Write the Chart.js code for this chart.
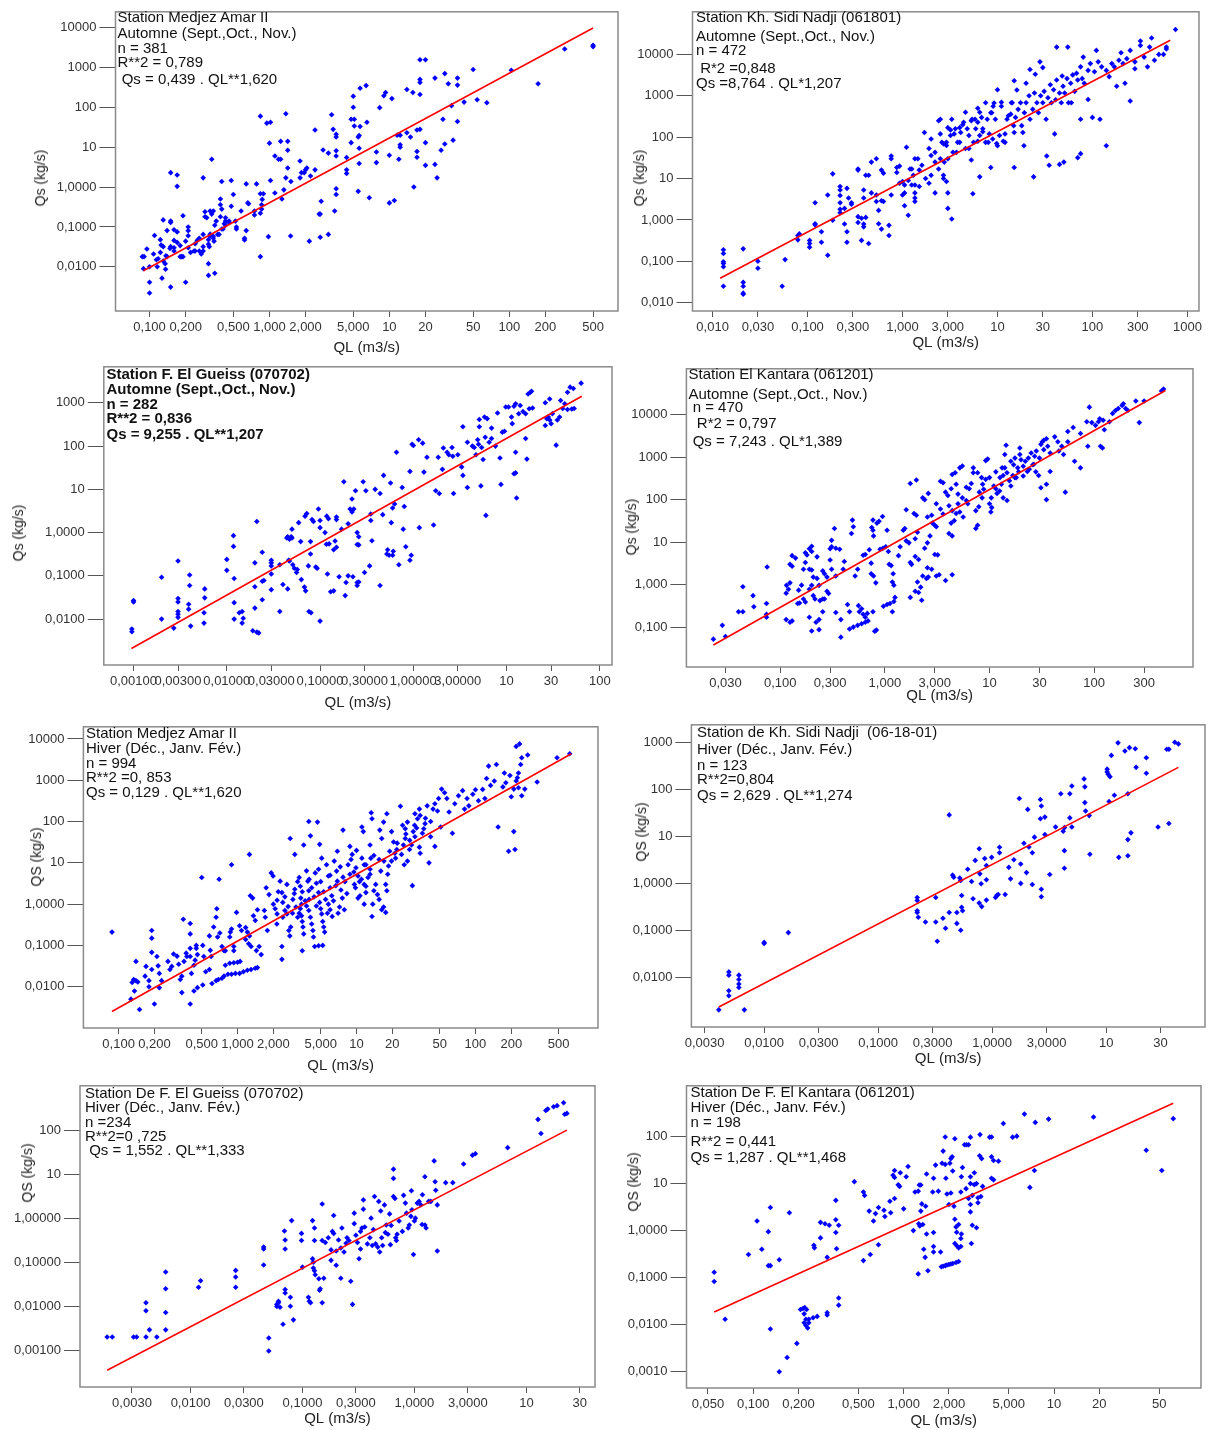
<!DOCTYPE html>
<html>
<head>
<meta charset="utf-8">
<title>Relations QS - QL</title>
<script src="https://cdn.jsdelivr.net/npm/chart.js@4.4.1/dist/chart.umd.min.js"></script>
<style>
  body { margin: 0; background: #fff; width: 1216px; height: 1430px; position: relative; overflow: hidden;
         font-family: "Liberation Sans", Arial, sans-serif; }
  canvas { position: absolute; }
  .note { position: absolute; font-size: 15px; line-height: 16px; color: #111; white-space: pre; }
  .note.bold { font-weight: bold; }
  .ytitle { position: absolute; font-size: 14px; line-height: 16px; color: #222; white-space: pre;
            transform: translate(-50%, -50%) rotate(-90deg); }
</style>
</head>
<body>
<script>
// ---- data: [QL (m3/s), Qs (kg/s)] ----
const medjezAutumn = [[500,3300],[500,3600],[290,2900],[104,850],[174,390],[50,890],[54,155],[65,130],[42,135],[37,540],[37,360],[37,44],[34,15],[33,110],[31,390],[29,700],[28,50],[29,12],[27,8.4],[24,540],[24,3.7],[25,1.7],[20,13],[20,3.5],[20,1550],[18,1550],[18,500],[18,420],[18,210],[18,28],[17,27],[17,5.6],[17,7.8],[15.7,235],[16,1.0],[15,18],[14,280],[14,23],[12.3,20],[12.3,11.5],[12.3,10],[11.6,20],[12,5],[11,0.46],[10,0.40],[10,6.3],[10.5,165],[9.3,235],[9,195],[8.3,98],[7.8,7.6],[7.8,4.1],[6.8,0.54],[6.5,42],[6.4,350],[5.7,300],[5.7,33],[5.6,19.5],[5.5,18],[5.6,9.4],[5.6,3.9],[5.5,0.78],[5.1,50],[4.8,50],[5,100],[5,190],[5.1,34],[4.8,13],[4.4,5.5],[4.4,2.7],[4.4,2.2],[3.6,21],[3.4,28],[3.6,18],[3.6,8.1],[3.6,6.0],[3.6,0.91],[3.6,0.65],[3.5,0.25],[3.3,65],[3.1,7.1],[3.1,0.065],[2.7,0.44],[2.65,0.21],[2.6,0.21],[2.8,8.5],[2.65,0.055],[2.4,27],[2.4,2.7],[2.15,0.044],[2.2,1.9],[2.05,3.0],[2.0,2.7],[1.85,2.3],[1.8,1.7],[1.95,2.3],[1.8,4.5],[1.51,1.38],[1.5,0.059],[1.42,3.0],[1.42,14],[1.42,8.4],[1.37,69],[1.37,1.7],[1.24,14],[1.24,5],[1.19,5],[1.27,0.5],[1.32,0.85],[1.11,6],[1.11,0.71],[1.02,1.46],[1.0,12.6],[0.98,0.057],[1.02,42],[0.95,40],[0.84,60],[0.87,0.49],[0.89,0.68],[0.84,0.68],[0.86,0.36],[0.86,0.28],[0.84,0.22],[0.84,0.018],[0.78,1.2],[0.75,0.25],[0.75,0.2],[0.67,0.38],[0.66,0.4],[0.64,0.081],[0.58,0.25],[0.64,1.2],[0.62,0.052],[0.62,0.047],[0.53,0.089],[0.53,0.1],[0.5,0.65],[0.52,0.14],[0.48,0.33],[0.48,1.46],[0.46,0.14],[0.46,0.13],[0.4,1.38],[0.4,0.28],[0.39,0.36],[0.39,0.5],[0.43,0.17],[0.43,0.14],[0.42,0.12],[0.43,0.11],[0.4,0.089],[0.41,0.089],[0.39,0.18],[0.37,0.065],[0.38,0.065],[0.35,0.11],[0.36,0.14],[0.34,0.25],[0.35,0.0069],[0.34,0.058],[0.34,0.052],[0.345,0.044],[0.33,5.0],[0.32,0.25],[0.33,0.21],[0.32,0.066],[0.32,0.059],[0.31,0.048],[0.31,0.037],[0.315,0.032],[0.31,0.012],[0.31,0.0061],[0.3,0.17],[0.29,0.18],[0.29,0.24],[0.28,1.7],[0.28,0.032],[0.28,0.025],[0.28,0.065],[0.27,0.021],[0.26,0.025],[0.25,0.046],[0.26,0.052],[0.24,0.038],[0.24,0.025],[0.235,0.025],[0.22,0.023],[0.21,0.030],[0.2,0.044],[0.21,0.1],[0.21,0.08],[0.21,0.06],[0.19,0.19],[0.19,0.018],[0.18,0.018],[0.185,0.018],[0.2,0.0041],[0.17,0.041],[0.18,0.034],[0.17,1.04],[0.17,2.0],[0.17,0.075],[0.16,0.085],[0.16,0.03],[0.16,0.025],[0.15,0.13],[0.15,0.14],[0.15,2.3],[0.15,0.032],[0.148,0.029],[0.15,0.0031],[0.14,0.081],[0.14,0.018],[0.13,0.014],[0.135,0.012],[0.136,0.0087],[0.137,0.019],[0.13,0.15],[0.13,0.032],[0.125,0.035],[0.127,0.0052],[0.123,0.048],[0.123,0.023],[0.118,0.016],[0.114,0.015],[0.116,0.01],[0.11,0.061],[0.108,0.021],[0.1,0.0041],[0.1,0.0022],[0.095,0.028],[0.09,0.018],[0.087,0.018],[0.089,0.009],[0.1,0.01],[0.16,0.046]];
const sidiNadjiAutumn = [[0.013,0.19],[0.013,0.155],[0.013,0.098],[0.013,0.089],[0.013,0.074],[0.013,0.025],[0.021,0.2],[0.021,0.031],[0.021,0.025],[0.021,0.017],[0.021,0.016],[0.03,0.1],[0.03,0.068],[0.054,0.025],[0.058,0.11],[0.079,0.42],[0.079,0.33],[0.082,0.46],[0.105,0.32],[0.105,0.27],[0.105,0.22],[0.12,0.81],[0.12,0.76],[0.12,2.6],[0.14,0.52],[0.14,0.29],[0.163,0.14],[0.163,4.0],[0.184,0.98],[0.184,13],[0.22,6.4],[0.22,5.3],[0.22,3.9],[0.22,2.6],[0.22,1.8],[0.22,1.5],[0.245,0.8],[0.245,1.9],[0.27,3.4],[0.26,5.8],[0.26,0.52],[0.26,0.29],[0.29,2.6],[0.29,2.4],[0.34,17],[0.34,16],[0.34,1.2],[0.34,0.87],[0.37,1.1],[0.37,0.32],[0.39,5.3],[0.39,3.4],[0.39,0.8],[0.39,0.68],[0.41,12],[0.41,1.15],[0.44,0.27],[0.44,12],[0.47,25],[0.47,4.5],[0.53,30],[0.53,4.0],[0.53,2.8],[0.56,0.81],[0.56,1.7],[0.6,16],[0.6,2.9],[0.6,0.6],[0.63,13.5],[0.63,2.8],[0.72,0.42],[0.72,0.74],[0.76,4.0],[0.76,35],[0.76,30],[0.87,18.5],[0.87,14],[0.93,20],[0.93,7.7],[1.0,8.5],[1.0,4.0],[1.05,4.5],[1.05,2.2],[1.1,57],[1.15,9],[1.15,1.3],[1.25,17],[1.25,7],[1.35,30],[1.35,7],[1.35,4.5],[1.35,3.4],[1.35,2.8],[1.5,6.4],[1.5,16],[1.7,130],[1.9,53],[1.9,7.7],[2.0,90],[2.0,12],[2.2,4.5],[2.2,25],[2.4,250],[2.4,17],[2.5,270],[2.5,120],[2.7,10],[2.7,12],[2.7,69],[2.9,8.5],[2.9,75],[3.0,170],[3.0,30],[3.0,4.5],[3.0,1.9],[3.2,150],[3.3,1.05],[3.3,270],[3.5,120],[3.7,43],[4.0,75],[4.0,170],[4.3,200],[4.6,400],[5,53],[5.3,250],[5.3,28],[5.5,4.3],[5.8,270],[6.2,500],[6.2,80],[6.5,400],[6.5,11],[7,135],[7.5,680],[8,75],[8.5,18.5],[9,560],[9.5,270],[10,1400],[10,62],[11,700],[12,75],[13,330],[14,680],[15,2300],[15,130],[15,18.5],[16,1380],[18,190],[19,62],[20,2000],[22,4300],[24,11],[25,3300],[28,6600],[30,4800],[33,35],[35,21],[40,120],[42,15000],[45,22],[48,3000],[50,25],[55,15000],[60,680],[70,32],[75,270],[75,40],[80,8600],[90,810],[100,300],[110,12500],[120,270],[140,62],[150,2900],[180,1700],[200,11000],[220,2000],[250,750],[280,4500],[320,21000],[380,5000],[420,25000],[500,10000],[600,15000],[750,40000],[8.7,390],[9.2,670],[9.8,70],[10.5,110],[11,560],[11.5,80],[12,120],[12.6,270],[13.8,360],[14.3,680],[14.8,190],[15.5,300],[16.5,470],[17.5,680],[18.5,130],[19.2,390],[20,680],[21.5,1000],[22,270],[23.5,470],[24.5,1170],[26,680],[27,390],[28.5,1000],[30,680],[31,1280],[32.5,270],[34,900],[36,1850],[37,680],[39,1400],[41,800],[42,2400],[45,1170],[47,680],[49,1700],[51,1170],[54,2600],[56,680],[59,2000],[62,3200],[65,1280],[68,3500],[70,2400],[75,5000],[78,2600],[82,2000],[90,4100],[95,6000],[105,3800],[115,6600],[125,5000],[140,4100],[160,6000],[170,5000],[190,7200],[210,6000],[230,7900],[250,12500],[280,6600],[320,16500],[350,8600],[400,15000],[450,7200],[560,10000],[600,13500],[1.05,7],[1.2,17],[1.3,12],[1.45,30],[1.6,21],[1.75,10],[2.0,36],[2.2,43],[2.5,30],[2.6,75],[2.75,25],[2.9,63],[3.2,110],[3.4,43],[3.6,160],[3.8,75],[4.1,130],[4.4,230],[4.6,53],[4.8,160],[5,110],[5.4,270],[5.6,75],[5.9,160],[6.2,230],[6.5,110],[6.8,300],[7,160],[7.5,75],[7.8,270],[8.2,120],[8.5,390],[8.9,90]];
const gueissAutumn = [[0.00096,0.0051],[0.00096,0.0059],[0.001,0.027],[0.001,0.025],[0.002,0.01],[0.0027,0.0062],[0.003,0.22],[0.003,0.03],[0.003,0.025],[0.003,0.015],[0.003,0.013],[0.003,0.011],[0.004,0.105],[0.004,0.06],[0.0039,0.022],[0.0039,0.017],[0.0041,0.0069],[0.002,0.093],[0.0058,0.05],[0.0058,0.031],[0.0057,0.014],[0.0057,0.0081],[0.01,0.24],[0.01,0.134],[0.0118,0.85],[0.0118,0.48],[0.012,0.087],[0.012,0.024],[0.012,0.01],[0.0136,0.014],[0.0146,0.015],[0.015,0.0105],[0.0146,0.0081],[0.02,0.2],[0.02,0.056],[0.02,0.018],[0.019,0.0054],[0.021,0.005],[0.022,0.0048],[0.021,1.8],[0.024,0.35],[0.024,0.075],[0.025,0.078],[0.024,0.028],[0.03,0.23],[0.03,0.2],[0.03,0.17],[0.03,0.11],[0.03,0.048],[0.037,0.18],[0.037,0.015],[0.04,0.063],[0.044,0.75],[0.045,0.8],[0.047,0.7],[0.045,0.05],[0.046,0.23],[0.047,0.22],[0.05,1.2],[0.05,0.75],[0.049,0.8],[0.051,0.18],[0.053,0.15],[0.056,0.12],[0.057,0.14],[0.059,1.7],[0.062,0.62],[0.063,0.082],[0.068,0.055],[0.07,0.045],[0.069,2.4],[0.072,2.75],[0.075,0.17],[0.079,0.32],[0.076,0.015],[0.08,0.014],[0.079,0.62],[0.082,2.0],[0.085,1.8],[0.09,0.16],[0.093,0.15],[0.096,3.5],[0.1,1.9],[0.1,1.3],[0.1,0.009],[0.113,1.0],[0.118,2.4],[0.123,2.1],[0.12,0.11],[0.117,0.54],[0.125,0.55],[0.13,0.043],[0.14,0.045],[0.14,0.4],[0.145,0.64],[0.15,2.0],[0.15,2.3],[0.15,0.46],[0.16,0.095],[0.17,1.2],[0.18,15],[0.186,0.035],[0.19,0.07],[0.2,0.1],[0.2,1.6],[0.21,3.5],[0.22,3.0],[0.225,0.095],[0.22,6],[0.23,3.5],[0.24,9.3],[0.25,0.06],[0.25,0.07],[0.25,1.0],[0.26,0.8],[0.25,0.53],[0.26,0.52],[0.26,0.072],[0.29,15],[0.3,0.12],[0.31,9.3],[0.34,0.17],[0.35,1.9],[0.35,2.7],[0.36,0.65],[0.39,10],[0.44,0.06],[0.44,8],[0.47,2.6],[0.48,21],[0.52,0.32],[0.53,0.4],[0.55,0.3],[0.57,14],[0.58,1.7],[0.6,0.3],[0.6,3.7],[0.61,0.37],[0.63,4.6],[0.66,72],[0.7,0.18],[0.76,11],[0.8,4.0],[0.78,1.2],[0.83,0.47],[0.92,26],[0.97,110],[1.0,103],[0.92,0.23],[0.95,0.3],[1.14,140],[1.16,1.3],[1.26,117],[1.3,25],[1.4,55],[1.65,1.5],[1.74,9.3],[1.9,8],[1.85,55],[2.05,29],[2.1,90],[2.3,72],[2.4,63],[2.6,93],[2.65,58],[2.7,8],[3,63],[3.3,33],[3.4,280],[3.4,21],[3.8,11],[3.8,123],[4.3,100],[4.5,93],[4.7,63],[4.9,140],[5.0,110],[5.1,410],[5.1,280],[5.3,12],[5.4,93],[5.6,49],[5.8,470],[6.2,430],[5.9,160],[6,2.5],[6.5,123],[6.9,150],[6.9,260],[7.6,100],[8,580],[8.5,53],[8.7,13],[9,210],[9.5,220],[9.8,800],[10.5,800],[11.3,470],[11.5,330],[12,830],[12.5,950],[12.5,72],[12,23],[12.5,24],[12.8,6.3],[13.5,560],[14,870],[15,630],[16,560],[16,150],[16.5,50],[17,1600],[18,1750],[18.5,1850],[17.5,730],[19,760],[26,300],[27,430],[26,1000],[28,470],[29,400],[29,1230],[31,560],[30,330],[34,105],[35,400],[37,470],[38,1130],[40,740],[42,950],[45,1750],[48,2300],[52,2150],[45,700],[50,720],[53,740],[63,2850]];
const kantaraAutumn = [[0.023,0.052],[0.028,0.11],[0.03,0.06],[0.04,0.23],[0.044,0.23],[0.044,0.89],[0.055,0.55],[0.056,0.3],[0.074,0.36],[0.074,0.2],[0.074,0.17],[0.075,2.6],[0.114,0.63],[0.12,0.78],[0.115,0.96],[0.124,1.1],[0.124,3.0],[0.13,2.7],[0.13,4.8],[0.14,4.2],[0.114,0.15],[0.124,0.13],[0.13,0.14],[0.147,0.36],[0.153,0.37],[0.15,0.74],[0.16,0.97],[0.167,2.3],[0.174,3.3],[0.174,5.6],[0.167,0.46],[0.174,0.39],[0.18,5],[0.19,7],[0.2,8],[0.2,6],[0.19,2.3],[0.2,2.2],[0.207,1.5],[0.19,0.78],[0.2,0.96],[0.207,0.55],[0.215,0.46],[0.19,0.17],[0.2,0.081],[0.235,0.087],[0.22,0.13],[0.235,0.15],[0.225,1.4],[0.235,0.96],[0.225,4.5],[0.24,0.42],[0.255,0.46],[0.265,0.46],[0.255,2.1],[0.265,1.8],[0.28,1.5],[0.255,0.23],[0.28,0.7],[0.29,0.62],[0.3,7],[0.31,7.8],[0.34,7.2],[0.37,6.8],[0.31,11],[0.33,21],[0.3,3.8],[0.31,2.3],[0.34,1.6],[0.34,0.22],[0.38,0.15],[0.38,0.058],[0.4,2.3],[0.41,3.5],[0.44,0.34],[0.46,0.23],[0.46,0.09],[0.5,0.1],[0.55,0.11],[0.6,0.12],[0.65,0.13],[0.69,0.14],[0.48,16],[0.49,33],[0.5,23],[0.52,1.6],[0.55,2.3],[0.56,0.32],[0.57,0.23],[0.6,0.27],[0.62,0.2],[0.65,0.17],[0.68,0.21],[0.62,4.9],[0.65,5.1],[0.71,6.6],[0.74,3.2],[0.77,33],[0.75,22],[0.77,19],[0.78,14],[0.74,1.8],[0.78,1.6],[0.82,1.1],[0.77,0.23],[0.8,0.08],[0.83,0.085],[0.84,28],[0.88,31],[0.9,6.8],[0.95,40],[0.96,7.2],[1.02,7.8],[1.08,6],[1.05,19],[1.1,3],[1.15,2.8],[1.2,1.8],[1.18,1.15],[1.22,0.97],[0.97,0.31],[1.05,0.34],[1.12,0.36],[1.22,0.4],[1.25,0.5],[1.18,0.23],[1.35,4.8],[1.4,7.8],[1.5,19],[1.55,21],[1.6,58],[1.6,10.7],[1.7,9.6],[1.75,3.3],[1.8,3],[1.75,240],[2.0,290],[1.9,47],[2.0,43],[1.95,12],[2.05,17],[1.95,4.6],[2.1,3.9],[2.05,1.15],[2.2,0.87],[1.75,0.5],[1.95,0.7],[2.1,0.65],[2.25,0.43],[2.3,1.6],[2.5,1.4],[2.6,1.5],[2.4,7.2],[2.55,9.6],[2.7,14],[2.55,2.5],[2.8,2.3],[3.0,5.1],[3.2,5],[3.1,1.6],[3.3,1.7],[3.8,1.25],[4.4,1.7],[2.3,110],[2.4,100],[2.6,140],[2.55,39],[2.8,43],[2.85,28],[3,25],[3.1,23],[3.1,80],[3.4,60],[3.6,46],[3.4,270],[3.6,250],[3.8,150],[4.0,125],[4.3,180],[4.1,16],[4.4,14],[4.3,28],[4.6,32],[4.1,72],[4.4,55],[4.8,47],[5.0,80],[4.8,230],[5.0,135],[4.4,390],[4.7,430],[5.2,560],[5.5,620],[5.2,51],[5.6,39],[5.5,110],[6,95],[6.2,80],[6,195],[6.4,180],[6.7,240],[7,430],[7,560],[7.4,55],[7.9,68],[7.4,21],[7.7,25],[8,150],[8.5,110],[8.8,175],[9.2,830],[9.6,900],[9.2,300],[10,330],[10,80],[10.5,65],[10.3,51],[11,210],[11.5,180],[11.8,140],[12.5,160],[13,230],[13.5,370],[14,560],[14.7,430],[13.5,110],[14.7,95],[14,1150],[14.4,1900],[15.5,280],[16,210],[16,800],[17,660],[17.5,950],[18,330],[19,450],[19.5,1150],[19.5,1640],[20,870],[21,610],[22,800],[23,460],[23.5,950],[25,1250],[26,660],[27,1050],[28,1400],[30,950],[31,2000],[32,2300],[33,2500],[35,2700],[33,1500],[36,1800],[38,1250],[31,190],[35,230],[35,100],[38,460],[42,3000],[45,2300],[46,1400],[49,1800],[51,1150],[53,150],[56,2300],[56,4000],[63,5000],[65,800],[74,560],[74,3600],[87,1800],[85,6800],[95,6500],[90,15000],[103,5600],[110,6800],[113,8000],[115,1800],[120,1640],[125,4400],[122,7400],[140,6800],[150,10700],[160,12500],[170,14000],[185,16500],[190,18000],[200,14000],[210,12500],[250,21000],[270,6500],[300,21000],[440,36000],[460,40000],[7.7,430],[8.4,330],[8.6,230],[10.4,110],[11.5,450],[12.6,330],[13.2,560],[16.7,370],[17.5,330],[18.6,560],[21,360],[24,520],[26.5,680],[27.7,450],[29.5,370]];
const medjezWinter = [[0.088,0.21],[0.127,0.005],[0.13,0.0127],[0.134,0.015],[0.14,0.014],[0.145,0.013],[0.136,0.0079],[0.14,0.041],[0.15,0.0028],[0.167,0.018],[0.17,0.031],[0.18,0.01],[0.18,0.014],[0.19,0.23],[0.19,0.15],[0.19,0.068],[0.19,0.026],[0.2,0.0038],[0.21,0.054],[0.215,0.032],[0.22,0.021],[0.22,0.0094],[0.23,0.014],[0.26,0.041],[0.27,0.026],[0.28,0.031],[0.29,0.062],[0.31,0.055],[0.32,0.035],[0.33,0.015],[0.34,0.018],[0.34,0.0072],[0.35,0.43],[0.355,0.041],[0.37,0.065],[0.375,0.054],[0.4,0.34],[0.4,0.19],[0.4,0.085],[0.4,0.054],[0.4,0.0038],[0.41,0.021],[0.43,0.033],[0.44,0.044],[0.43,0.0079],[0.46,0.0095],[0.45,0.085],[0.46,0.06],[0.45,0.1],[0.5,4.4],[0.51,0.1],[0.52,0.054],[0.51,0.011],[0.54,0.023],[0.58,0.026],[0.59,0.076],[0.6,0.054],[0.58,0.17],[0.61,0.012],[0.66,0.014],[0.69,0.015],[0.74,0.016],[0.63,0.28],[0.66,0.48],[0.67,0.77],[0.68,0.16],[0.71,0.2],[0.7,4.0],[0.74,0.094],[0.77,0.074],[0.79,0.074],[0.79,0.033],[0.86,0.037],[0.93,0.038],[1.0,0.039],[1.05,0.041],[0.77,0.018],[0.83,0.02],[0.89,0.02],[0.96,0.021],[0.86,0.16],[0.87,0.21],[0.89,0.25],[0.93,0.094],[0.93,0.074],[0.89,9.0],[0.98,0.63],[1.04,0.021],[1.12,0.023],[1.21,0.025],[1.3,0.026],[1.41,0.028],[1.47,0.029],[1.04,0.3],[1.08,0.23],[1.17,0.27],[1.21,0.21],[1.26,0.17],[1.17,0.14],[1.24,0.11],[1.3,0.094],[1.26,16],[1.28,1.6],[1.34,1.4],[1.36,0.52],[1.41,0.4],[1.47,0.73],[1.44,0.075],[1.52,0.094],[1.58,0.06],[1.68,0.7],[1.71,0.48],[1.78,0.23],[1.74,2.5],[1.84,1.7],[1.92,5.7],[1.99,4.8],[2.0,1.0],[2.07,0.77],[2.15,0.58],[2.15,1.24],[2.14,0.33],[2.28,3.6],[2.36,1.9],[2.4,1.1],[2.4,0.48],[2.36,0.094],[2.36,0.046],[2.5,0.7],[2.6,0.58],[2.66,0.87],[2.7,0.23],[2.75,0.17],[2.8,0.28],[2.77,39],[2.92,1.3],[3.03,2.3],[3.1,0.85],[3.2,0.48],[3.03,16],[3.3,4.4],[3.37,2.7],[3.4,1.4],[3.45,1.0],[3.37,0.77],[3.45,0.52],[3.5,0.38],[3.55,0.28],[3.6,0.19],[3.5,0.074],[3.6,27],[3.8,6.4],[3.9,3.6],[3.97,2.1],[4.0,1.3],[3.97,0.7],[4.1,0.48],[4.2,0.33],[4.3,0.23],[4.35,0.16],[3.97,100],[4.7,97],[4.1,45],[4.45,0.094],[4.8,0.098],[5.2,0.1],[4.5,5.7],[4.6,3.2],[4.8,1.9],[4.9,1.1],[5.0,0.77],[5.1,0.58],[5.2,0.38],[5.3,0.28],[5.4,0.21],[4.9,28],[5.1,13],[5.6,9],[5.8,4.8],[6.0,2.5],[6.2,1.6],[5.8,1.0],[6,0.73],[6.25,0.5],[6.5,11],[6.8,6.3],[6.9,3.6],[6.9,19],[7.2,0.85],[7.4,2.2],[7.6,1.4],[7.7,4.5],[7.7,62],[7.9,0.73],[8.5,9],[8.8,5.3],[8.8,25],[9.2,16],[9.6,3.0],[9.8,2.5],[9.9,7.6],[10.3,4.8],[10.6,3.5],[10.3,1.4],[10.7,1.6],[11.1,74],[11.4,57],[11.1,13],[11.6,9],[11.6,3.0],[12,2.7],[12,1.9],[11.6,1.0],[12.5,4.4],[13,5.3],[13,7],[13,27],[13.2,13],[13.5,0.5],[13.7,1.0],[13.3,163],[13.5,117],[14,2.1],[14.5,3.0],[15,1.7],[15.5,1.3],[15.5,12],[16,6.3],[15.7,62],[16.3,39],[16.3,0.73],[16.9,0.85],[17.6,0.63],[16.9,97],[18,155],[17.6,3.0],[18,2.1],[18.3,5.3],[18.6,8.4],[19,19],[19.7,11],[19.7,57],[20.5,32],[21,17],[21.3,13],[21.8,21],[23.4,235],[23.9,16],[24.8,27],[25.7,39],[25.2,9],[26.8,11],[24.4,81],[25.7,67],[26.8,97],[27.9,21],[29,27],[29.5,2.8],[30,57],[31,43],[30.8,81],[31,155],[32.6,117],[33.8,200],[34.3,140],[33.8,24],[34.3,17],[35.8,52],[36.8,67],[37.7,89],[39.3,240],[40.7,10],[42,43],[44,200],[45.6,270],[45.6,25],[49,360],[51,74],[52,610],[55,500],[57.5,360],[60,170],[64,52],[67,270],[72,420],[78,560],[81,200],[85,360],[88,240],[95,460],[100,590],[106,320],[115,600],[120,360],[124,1100],[129,2200],[134,750],[144,960],[150,2400],[155,74],[170,690],[175,1500],[180,870],[195,1300],[190,19],[200,400],[210,610],[215,21],[220,960],[225,1150],[230,1500],[210,57],[230,660],[220,6600],[235,7600],[245,3500],[240,2400],[245,420],[260,610],[275,4100],[330,910],[485,3500],[620,4400],[2.2,2.0],[2.5,1.5],[2.6,3.0],[2.9,0.6],[3.0,1.8],[3.2,3.5],[3.3,0.6],[3.5,2.0],[3.7,1.2],[3.8,0.9],[4.0,4.0],[4.2,2.5],[4.4,1.5],[4.6,0.9],[4.8,7.0],[5.0,3.5],[5.3,2.0],[5.5,1.3],[5.7,0.6],[6.0,5.0],[6.4,1.2],[6.7,2.8],[7.0,0.6],[7.3,8.0],[8.0,3.5],[8.3,1.8],[9.0,12],[9.5,6.0],[10,20],[11,4.0],[12,9],[14,15],[17,11],[22,30],[26,50],[28,35],[32,70],[38,120],[42,100],[48,180]];
const sidiNadjiWinter = [[0.004,0.002],[0.0049,0.0129],[0.0049,0.011],[0.0049,0.0051],[0.0049,0.004],[0.006,0.011],[0.006,0.0089],[0.006,0.0071],[0.006,0.006],[0.0067,0.002],[0.01,0.055],[0.01,0.052],[0.0163,0.089],[0.22,0.5],[0.22,0.43],[0.22,0.26],[0.22,0.24],[0.225,0.19],[0.26,0.15],[0.32,0.5],[0.33,0.058],[0.32,0.15],[0.37,0.18],[0.39,0.11],[0.42,0.24],[0.42,29],[0.45,1.5],[0.46,1.35],[0.49,0.24],[0.49,0.14],[0.52,1.3],[0.53,1.15],[0.53,0.1],[0.54,0.31],[0.55,0.26],[0.54,0.55],[0.61,2.0],[0.66,1.1],[0.68,0.47],[0.71,3.1],[0.77,5.5],[0.78,1.6],[0.77,0.38],[0.81,0.32],[0.8,0.98],[0.86,3.4],[0.89,2.4],[0.89,1.2],[0.89,0.44],[0.99,3.6],[1.07,0.5],[1.1,0.56],[1.13,0.58],[1.16,5.9],[1.16,4.5],[1.3,0.58],[1.4,2.2],[1.45,1.25],[1.55,3.2],[1.73,65],[1.78,2.6],[1.78,1.0],[1.9,7.2],[2.0,1.7],[2.05,38],[2.1,6],[2.25,4.5],[2.25,0.95],[2.35,9.7],[2.65,24],[2.65,62],[2.7,45],[2.7,0.75],[2.7,0.52],[2.9,26],[2.9,11],[3.2,1.55],[3.6,16],[4.0,82],[4.2,13],[4.3,15.5],[4.3,5],[4.3,2.1],[4.8,82],[4.8,25],[5.0,120],[5.0,16],[6.4,170],[6.5,115],[6.5,53],[6.6,35],[7.1,28],[7.2,4.2],[10.2,275],[10.2,240],[10.4,215],[10.8,190],[10.6,56],[11.1,540],[11.8,76],[12.7,1000],[12.9,3.6],[14.6,670],[15.5,82],[15.5,8.6],[15.5,3.9],[16,790],[16.5,12],[18,750],[18.3,300],[22.5,480],[22.5,225],[28.5,16],[34,730],[35.5,730],[35.5,19],[40,1030],[43,950]];
const gueissWinter = [[0.0018,0.002],[0.002,0.002],[0.0031,0.002],[0.0033,0.002],[0.004,0.012],[0.004,0.0079],[0.004,0.002],[0.0043,0.0029],[0.005,0.002],[0.006,0.06],[0.006,0.025],[0.006,0.0072],[0.006,0.0029],[0.0118,0.027],[0.0123,0.038],[0.0253,0.065],[0.0253,0.046],[0.0253,0.027],[0.045,0.22],[0.045,0.2],[0.045,0.086],[0.05,0.0019],[0.05,0.00096],[0.059,0.011],[0.059,0.0099],[0.061,0.012],[0.063,0.0095],[0.061,0.013],[0.067,0.0039],[0.069,0.51],[0.07,0.32],[0.07,0.2],[0.07,0.024],[0.07,0.02],[0.078,0.016],[0.078,0.01],[0.08,0.88],[0.083,0.0049],[0.098,0.45],[0.098,0.31],[0.1,0.077],[0.113,0.016],[0.115,0.013],[0.118,0.012],[0.123,0.119],[0.125,0.1],[0.125,0.074],[0.128,0.064],[0.123,0.88],[0.128,0.6],[0.128,0.31],[0.13,0.052],[0.14,0.042],[0.142,0.023],[0.144,0.025],[0.15,0.012],[0.15,0.31],[0.15,2.1],[0.155,0.043],[0.16,0.28],[0.17,0.36],[0.18,0.11],[0.18,0.19],[0.185,0.5],[0.19,0.45],[0.19,1.15],[0.2,0.085],[0.2,0.18],[0.21,0.32],[0.22,0.21],[0.22,0.043],[0.225,0.6],[0.235,0.17],[0.245,0.27],[0.25,0.36],[0.26,0.31],[0.27,0.037],[0.28,0.011],[0.29,0.75],[0.29,1.3],[0.3,0.41],[0.31,0.28],[0.32,0.12],[0.33,0.2],[0.33,0.5],[0.34,0.6],[0.35,2.6],[0.35,1.6],[0.36,0.63],[0.38,0.26],[0.4,0.36],[0.41,1.0],[0.42,0.24],[0.43,0.55],[0.44,3.1],[0.45,0.26],[0.47,0.22],[0.48,2.4],[0.49,0.17],[0.5,1.45],[0.51,0.36],[0.52,0.24],[0.54,2.0],[0.55,0.47],[0.56,0.7],[0.58,0.43],[0.6,1.25],[0.61,0.25],[0.62,0.68],[0.65,13],[0.65,8],[0.65,3.1],[0.67,2.8],[0.68,0.36],[0.69,0.31],[0.7,0.43],[0.73,0.86],[0.78,0.5],[0.8,3.3],[0.83,2.2],[0.85,1.3],[0.88,0.6],[0.9,0.7],[0.93,1.1],[0.94,4.2],[0.95,1.55],[0.98,0.15],[1.0,0.86],[1.02,1.0],[1.06,2.2],[1.1,2.4],[1.14,2.0],[1.17,0.72],[1.24,0.7],[1.27,0.6],[1.18,3.4],[1.24,8.7],[1.34,2.4],[1.4,2.4],[1.5,20],[1.53,6.7],[1.55,4.3],[1.6,2.0],[1.6,0.18],[1.9,6.4],[2.2,6.4],[2.75,17],[3.3,27],[3.5,29],[6.8,40],[12.7,175],[13.5,84],[14.9,280],[15.5,300],[17.5,340],[18.8,360],[21.5,420],[22,230],[23,240]];
const kantaraWinter = [[0.055,0.13],[0.055,0.083],[0.065,0.013],[0.093,0.31],[0.106,1.6],[0.114,0.4],[0.126,0.95],[0.126,0.18],[0.13,0.18],[0.13,3.1],[0.13,0.0081],[0.149,0.24],[0.149,0.001],[0.168,0.002],[0.174,2.4],[0.195,0.004],[0.206,0.021],[0.214,0.022],[0.22,0.023],[0.226,0.021],[0.218,0.017],[0.224,0.013],[0.218,0.011],[0.224,0.0096],[0.23,0.0085],[0.234,0.011],[0.234,0.013],[0.25,0.014],[0.266,0.015],[0.253,0.49],[0.255,0.43],[0.28,0.7],[0.28,1.5],[0.3,1.4],[0.31,0.27],[0.31,0.018],[0.31,0.016],[0.32,1.3],[0.354,4.4],[0.354,1.7],[0.354,0.91],[0.358,0.41],[0.37,1.3],[0.37,0.037],[0.37,0.026],[0.47,11],[0.54,6.6],[0.55,5.6],[0.54,0.23],[0.59,2.6],[0.6,0.31],[0.63,1.6],[0.65,2.3],[0.68,3.1],[0.68,0.5],[0.74,2.7],[0.75,2.0],[0.82,2.4],[0.81,4.2],[0.85,15],[0.87,13.5],[0.87,19],[0.87,4.8],[0.92,9.4],[0.94,8.7],[0.95,17],[1.0,2.9],[1.04,14],[1.07,23],[1.16,1.0],[1.19,6.6],[1.25,6.9],[1.25,0.12],[1.26,1.4],[1.28,1.25],[1.27,9.3],[1.3,9.3],[1.3,2.6],[1.32,3.7],[1.34,1.35],[1.36,0.4],[1.39,0.27],[1.4,3.3],[1.42,16],[1.45,0.14],[1.42,0.85],[1.56,6.6],[1.58,0.35],[1.58,0.46],[1.58,0.91],[1.58,13],[1.76,0.35],[1.78,0.17],[1.83,0.175],[1.89,0.18],[1.94,0.186],[2.0,0.19],[2.06,0.195],[2.12,0.2],[2.23,0.21],[2.32,0.22],[1.83,49],[1.89,25.6],[1.94,6],[2.0,3.6],[1.89,98],[2.03,27],[2.06,34],[2.1,37],[2.12,18.5],[2.19,90],[2.16,3.3],[2.19,1.75],[2.23,1.2],[2.25,0.92],[2.19,0.53],[2.25,0.48],[2.32,0.43],[2.4,0.46],[2.32,1.35],[2.4,0.68],[2.42,0.85],[2.4,6.6],[2.46,22],[2.54,67],[2.62,67],[2.7,67],[2.7,4.8],[2.78,3.6],[2.78,2.5],[2.78,10],[2.78,97],[2.78,14],[2.82,0.53],[2.86,1.3],[2.86,5.6],[2.95,17],[3.05,10],[3.05,1.15],[3.12,5],[3.12,3.9],[3.22,110],[3.26,5.3],[3.2,39],[3.3,34],[3.35,8.7],[3.73,97],[3.84,98],[3.84,37],[3.96,31],[3.84,13],[3.96,12],[4.27,30],[4.6,190],[5.3,97],[5.65,102],[6.35,300],[6.9,8.3],[7.4,19],[7.5,200],[9.2,235],[18.3,260],[41,51],[52,19],[62,240],[1.63,24.7],[1.7,6.9],[1.8,27],[1.91,13],[2.06,6.3],[2.42,14],[2.6,7.8],[2.95,9.5]];

// regression lines: end points
const medjezAutumnFit = [[0.089, 0.0080], [500, 9700]];
const sidiNadjiAutumnFit = [[0.012, 0.039], [660, 22000]];
const gueissAutumnFit = [[0.00095, 0.0021], [64, 1420]];
const kantaraAutumnFit = [[0.023, 0.038], [480, 37000]];
const medjezWinterFit = [[0.088, 0.0025], [640, 4400]];
const sidiNadjiWinterFit = [[0.004, 0.0023], [43, 300]];
const gueissWinterFit = [[0.0018, 0.00035], [23, 100]];
const kantaraWinterFit = [[0.055, 0.0185], [62, 510]];

// tick values and labels
const ticks125 = [0.1, 0.2, 0.5, 1, 2, 5, 10, 20, 50, 100, 200, 500];
const labels125 = ['0,100', '0,200', '0,500', '1,000', '2,000', '5,000', '10', '20', '50', '100', '200', '500'];
const sidiAutX = [0.01, 0.03, 0.1, 0.3, 1, 3, 10, 30, 100, 300, 1000];
const sidiAutXLabels = ['0,010', '0,030', '0,100', '0,300', '1,000', '3,000', '10', '30', '100', '300', '1000'];
const gueissAutX = [0.001, 0.003, 0.01, 0.03, 0.1, 0.3, 1, 3, 10, 30, 100];
const gueissAutXLabels = ['0,00100', '0,00300', '0,01000', '0,03000', '0,10000', '0,30000', '1,00000', '3,00000', '10', '30', '100'];
const kantaraAutX = [0.03, 0.1, 0.3, 1, 3, 10, 30, 100, 300];
const kantaraAutXLabels = ['0,030', '0,100', '0,300', '1,000', '3,000', '10', '30', '100', '300'];
const winterX13 = [0.003, 0.01, 0.03, 0.1, 0.3, 1, 3, 10, 30];
const winterX13Labels = ['0,0030', '0,0100', '0,0300', '0,1000', '0,3000', '1,0000', '3,0000', '10', '30'];
const kantaraWinX = [0.05, 0.1, 0.2, 0.5, 1, 2, 5, 10, 20, 50];
const kantaraWinXLabels = ['0,050', '0,100', '0,200', '0,500', '1,000', '2,000', '5,000', '10', '20', '50'];

const yTicks7 = [10000, 1000, 100, 10, 1, 0.1, 0.01];
const yLabels7 = ['10000', '1000', '100', '10', '1,0000', '0,1000', '0,0100'];
const sidiAutYLabels = ['10000', '1000', '100', '10', '1,000', '0,100', '0,010'];
const yTicks6 = [1000, 100, 10, 1, 0.1, 0.01];
const yLabels6 = ['1000', '100', '10', '1,0000', '0,1000', '0,0100'];
const kantaraAutY = [10000, 1000, 100, 10, 1, 0.1];
const kantaraAutYLabels = ['10000', '1000', '100', '10', '1,000', '0,100'];
const winterYLow = [100, 10, 1, 0.1, 0.01, 0.001];
const gueissWinYLabels = ['100', '10', '1,00000', '0,10000', '0,01000', '0,00100'];
const kantaraWinYLabels = ['100', '10', '1,0000', '0,1000', '0,0100', '0,0010'];

// annotation text
const notesMedjezAutumn = ['Station Medjez Amar II', 'Automne (Sept.,Oct., Nov.)', 'n = 381', 'R**2 = 0,789', ' Qs = 0,439 . QL**1,620'];
const notesSidiNadjiAutumn = ['Station Kh. Sidi Nadji (061801)', 'Automne (Sept.,Oct., Nov.)', 'n = 472', ' R*2 =0,848', 'Qs =8,764 . QL*1,207'];
const notesGueissAutumn = ['Station F. El Gueiss (070702)', 'Automne (Sept.,Oct., Nov.)', 'n = 282', 'R**2 = 0,836', 'Qs = 9,255 . QL**1,207'];
const notesKantaraAutumn = ['Station El Kantara (061201)', 'Automne (Sept.,Oct., Nov.)', ' n = 470', '  R*2 = 0,797', ' Qs = 7,243 . QL*1,389'];
const notesMedjezWinter = ['Station Medjez Amar II', 'Hiver (Déc., Janv. Fév.)', 'n = 994', 'R**2 =0, 853', 'Qs = 0,129 . QL**1,620'];
const notesSidiNadjiWinter = ['Station de Kh. Sidi Nadji  (06-18-01)', 'Hiver (Déc., Janv. Fév.)', 'n = 123', 'R**2=0,804', 'Qs = 2,629 . QL**1,274'];
const notesGueissWinter = ['Station De F. El Gueiss (070702)', 'Hiver (Déc., Janv. Fév.)', 'n =234', 'R**2=0 ,725', ' Qs = 1,552 . QL**1,333'];
const notesKantaraWinter = ['Station De F. El Kantara (061201)', 'Hiver (Déc., Janv. Fév.)', 'n = 198', 'R**2 = 0,441', 'Qs = 1,287 . QL**1,468'];

// ---- layout: plot box in page px, axis band sizes, note and y-title positions ----
const panels = [
  { pts: medjezAutumn, fit: medjezAutumnFit, xT: ticks125, xL: labels125, yT: yTicks7, yL: yLabels7,
    xr: [0.052, 807], yr: [0.00078, 24800], yTitle: 'Qs (kg/s)', notes: notesMedjezAutumn,
    box: [115.5, 7.3, 618, 311.7], yW: 88.5, xH: 50, nx: 117.5, ny: [17.3, 33.3, 47.7, 62.3, 79.3], yt: [39.5, 178] },
  { pts: sidiNadjiAutumn, fit: sidiNadjiAutumnFit, xT: sidiAutX, xL: sidiAutXLabels, yT: yTicks7, yL: sidiAutYLabels,
    xr: [0.00614, 1324], yr: [0.0063, 107000], yTitle: 'Qs (kg/s)', notes: notesSidiNadjiAutumn,
    box: [692.5, 7.3, 1199.3, 311.7], yW: 66.5, xH: 45, nx: 696, ny: [17.3, 36, 50, 67.7, 83.3], yt: [639, 178] },
  { pts: gueissAutumn, fit: gueissAutumnFit, xT: gueissAutX, xL: gueissAutXLabels, yT: yTicks6, yL: yLabels6,
    xr: [0.00048, 135], yr: [0.00087, 6800], yTitle: 'Qs (kg/s)', notes: notesGueissAutumn, bold: true,
    box: [103.6, 362.3, 612, 665.7], yW: 98.8, xH: 51, nx: 106.5, ny: [374.3, 389.3, 404.3, 418.3, 434], yt: [17.8, 533] },
  { pts: kantaraAutumn, fit: kantaraAutumnFit, xT: kantaraAutX, xL: kantaraAutXLabels, yT: kantaraAutY, yL: kantaraAutYLabels,
    xr: [0.0127, 880], yr: [0.0115, 120000], yTitle: 'Qs (kg/s)', notes: notesKantaraAutumn,
    box: [686.7, 364.3, 1193.5, 667.7], yW: 68.4, xH: 42, nx: 688.5, ny: [374.3, 394.3, 406.7, 423.3, 440.7], yt: [631.3, 527] },
  { pts: medjezWinter, fit: medjezWinterFit, xT: ticks125, xL: labels125, yT: yTicks7, yL: yLabels7,
    xr: [0.0506, 1072], yr: [0.001, 19700], yTitle: 'QS (kg/s)', notes: notesMedjezWinter,
    box: [83, 721.7, 598, 1027.7], yW: 60.4, xH: 51, nx: 86, ny: [733.3, 748.3, 762.7, 777.3, 792.3], yt: [35.6, 857] },
  { pts: sidiNadjiWinter, fit: sidiNadjiWinterFit, xT: winterX13, xL: winterX13Labels, yT: yTicks6, yL: yLabels6,
    xr: [0.0023, 73.6], yr: [0.00086, 2430], yTitle: 'QS (kg/s)', notes: notesSidiNadjiWinter,
    box: [691.4, 720, 1205, 1026.7], yW: 63.4, xH: 45, nx: 697, ny: [732.3, 749.3, 765, 779, 795], yt: [641, 832] },
  { pts: gueissWinter, fit: gueissWinterFit, xT: winterX13, xL: winterX13Labels, yT: winterYLow, yL: gueissWinYLabels,
    xr: [0.00103, 41], yr: [0.000146, 1016], yTitle: 'QS (kg/s)', notes: notesGueissWinter,
    box: [79.9, 1081, 595, 1386.7], yW: 66, xH: 45, nx: 85, ny: [1093.3, 1107.3, 1122.3, 1136, 1150], yt: [26.9, 1173] },
  { pts: kantaraWinter, fit: kantaraWinterFit, xT: kantaraWinX, xL: kantaraWinXLabels, yT: winterYLow, yL: kantaraWinYLabels,
    xr: [0.036, 94.8], yr: [0.00045, 1200], yTitle: 'QS (kg/s)', notes: notesKantaraWinter,
    box: [686.7, 1081, 1201, 1388.3], yW: 66.5, xH: 46, nx: 690.5, ny: [1092.3, 1107.3, 1122.3, 1140.7, 1157.3], yt: [633.2, 1182] },
];

Chart.defaults.font.family = '"Liberation Sans", Arial, sans-serif';
const PAD = 6;

// full frame around the plotting area
const frame = {
  id: 'frame',
  afterDraw(chart) {
    const a = chart.chartArea, ctx = chart.ctx;
    ctx.save();
    ctx.strokeStyle = '#8a8a8a';
    ctx.lineWidth = 1.5;
    ctx.strokeRect(a.left, a.top, a.right - a.left, a.bottom - a.top);
    ctx.restore();
  }
};

function axis(range, tickVals, tickLabels, size, horizontal, title) {
  return {
    type: 'logarithmic',
    position: horizontal ? 'bottom' : 'left',
    bounds: 'data',
    min: range[0],
    max: range[1],
    afterBuildTicks: s => { s.ticks = tickVals.map(v => ({ value: v })); },
    afterFit: s => { if (horizontal) s.height = size; else s.width = size; },
    ticks: {
      autoSkip: false, maxRotation: 0, minRotation: 0,
      padding: 3,
      color: '#333',
      font: { size: 13 },
      callback: (v, i) => tickLabels[i],
    },
    grid: { drawOnChartArea: false, drawTicks: true, tickLength: horizontal ? 6 : 16, color: '#555', lineWidth: 1 },
    border: { display: false },
    // y titles are placed as page text below, off-centre like the original
    title: { display: horizontal, text: title, color: '#222', font: { size: 15 }, padding: { top: 4, bottom: 4 } },
  };
}

panels.forEach(p => {
  const [L, T, R, B] = p.box;
  const left = Math.round(L - p.yW);
  const top = Math.round(T - PAD);
  const cv = document.createElement('canvas');
  const w = Math.round(R - L + p.yW + PAD);
  const h = Math.round(B - T + p.xH + PAD);
  cv.width = w; cv.height = h;
  cv.style.left = left + 'px'; cv.style.top = top + 'px';
  cv.style.width = w + 'px'; cv.style.height = h + 'px';
  document.body.appendChild(cv);

  new Chart(cv, {
    type: 'scatter',
    data: {
      datasets: [
        {
          data: p.fit.map(([x, y]) => ({ x, y })),
          showLine: true,
          borderColor: '#ff0000',
          borderWidth: 1.6,
          pointRadius: 0,
        },
        {
          data: p.pts.map(([x, y]) => ({ x, y })),
          pointStyle: 'rectRot',
          pointRadius: 2.8,
          backgroundColor: '#0000ff',
          borderWidth: 0,
        },
      ],
    },
    options: {
      responsive: false,
      animation: false,
      events: [],
      layout: { padding: { top: PAD, right: PAD, left: 0, bottom: 0 } },
      plugins: { legend: { display: false }, tooltip: { enabled: false } },
      scales: {
        x: axis(p.xr, p.xT, p.xL, p.xH, true, 'QL (m3/s)'),
        y: axis(p.yr, p.yT, p.yL, p.yW, false, p.yTitle),
      },
    },
    plugins: [frame],
  });

  const yt = document.createElement('div');
  yt.className = 'ytitle';
  yt.textContent = p.yTitle;
  yt.style.left = p.yt[0] + 'px';
  yt.style.top = p.yt[1] + 'px';
  document.body.appendChild(yt);

  p.notes.forEach((line, i) => {
    const d = document.createElement('div');
    d.className = 'note' + (p.bold ? ' bold' : '');
    d.textContent = line;
    d.style.left = p.nx + 'px';
    d.style.top = (p.ny[i] - 8) + 'px';
    document.body.appendChild(d);
  });
});
</script>
</body>
</html>
